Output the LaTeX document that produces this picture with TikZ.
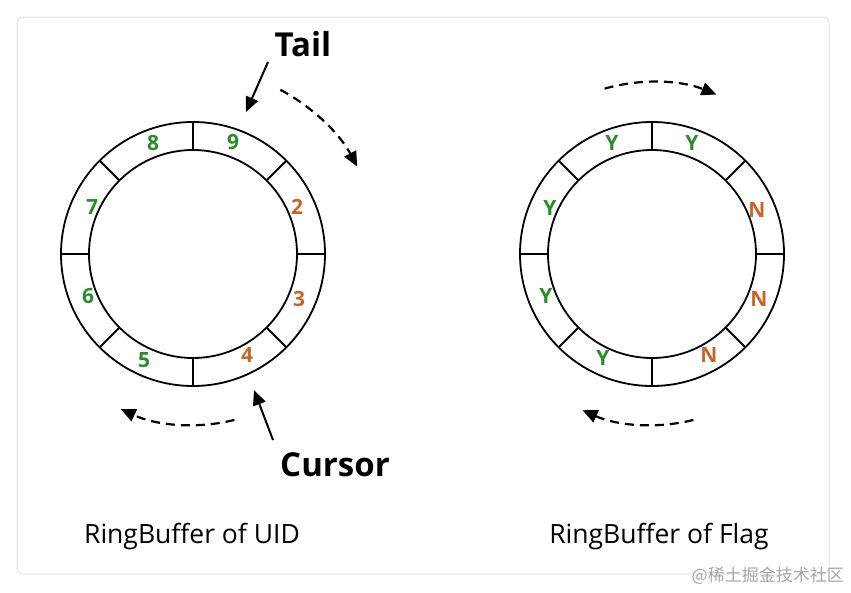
\documentclass[tikz,border=0pt]{standalone}
\usepackage{fontspec}
\setmainfont{Open Sans}
\newfontfamily\cjkfont{Noto Sans CJK SC}
\usetikzlibrary{arrows.meta,calc}
\definecolor{numgreen}{RGB}{40,140,40}
\definecolor{numorange}{RGB}{200,100,40}
\definecolor{framegray}{RGB}{228,228,228}
\tikzset{
  ring/.style={line width=1.8pt, black},
  divider/.style={line width=1.8pt, black},
  cellg/.style={text=numgreen, font=\bfseries\fontsize{21}{21}\selectfont, inner sep=0pt},
  cello/.style={text=numorange, font=\bfseries\fontsize{21}{21}\selectfont, inner sep=0pt},
  bigword/.style={font=\bfseries\fontsize{33}{33}\selectfont, inner sep=0pt},
  caption/.style={font=\fontsize{26.5}{26.5}\selectfont, inner sep=0pt},
  pointer/.style={line width=2pt, -{Triangle[length=15pt,width=13pt]}},
  motion/.style={line width=2.2pt, dash pattern=on 9pt off 6pt, -{Triangle[length=15pt,width=13pt]}},
  mark text/.style={text=black!35, font=\cjkfont\fontsize{17}{17}\selectfont, inner sep=0pt},
}
\begin{document}
\begin{tikzpicture}[x=1pt,y=-1pt]
\useasboundingbox (0,0) rectangle (851,592);
\draw[framegray, line width=1pt, rounded corners=6pt] (17,17) rectangle (829,574);

% left ring
\coordinate (L) at (193,254);
\draw[ring] (L) circle[radius=132];
\draw[ring] (L) circle[radius=104];
\foreach \a in {0,45,...,315}
  \draw[divider] ($(L)+(\a:104)$) -- ($(L)+(\a:132)$);
\node[cellg] (l9) at (233,142) {9};
\node[cellg] (l8) at (153,143) {8};
\node[cello] (l2) at (297,207) {2};
\node[cello] (l3) at (299,299) {3};
\node[cello] (l4) at (247,355) {4};
\node[cellg] (l5) at (144,360) {5};
\node[cellg] (l6) at (88,296) {6};
\node[cellg] (l7) at (92,207) {7};

% right ring
\coordinate (R) at (652,254);
\draw[ring] (R) circle[radius=132];
\draw[ring] (R) circle[radius=104];
\foreach \a in {0,45,...,315}
  \draw[divider] ($(R)+(\a:104)$) -- ($(R)+(\a:132)$);
\node[cellg] (r1) at (612,143) {Y};
\node[cellg] (r2) at (692,143) {Y};
\node[cello] (r3) at (757,210) {N};
\node[cello] (r4) at (759,299) {N};
\node[cello] (r5) at (709,355) {N};
\node[cellg] (r6) at (603,358) {Y};
\node[cellg] (r7) at (546,296) {Y};
\node[cellg] (r8) at (550,208) {Y};

% labels and pointers
\node[bigword] (tail) at (303,44) {Tail};
\node[bigword] (cursor) at (335,465) {Cursor};
\coordinate (tailfrom) at (268,62);
\coordinate (tailto) at (246,112);
\coordinate (curfrom) at (273,440);
\coordinate (curto) at (254,390);
\draw[pointer] (tailfrom) -- (tailto);
\draw[pointer] (curfrom) -- (curto);

% motion arcs
\draw[motion] ($(L)+(-62:186)$) arc[start angle=-62, end angle=-28, radius=186];
\draw[motion] ($(L)+(76:171)$) arc[start angle=76, end angle=115, radius=171];
\draw[motion] ($(R)+(-106:172)$) arc[start angle=-106, end angle=-68, radius=172];
\draw[motion] ($(R)+(76:171)$) arc[start angle=76, end angle=114, radius=171];

% captions
\node[caption] (capl) at (192,537) {RingBuffer of UID};
\node[caption] (capr) at (659,537) {RingBuffer of Flag};
\node[mark text, anchor=east] (wm) at (844,576) {@稀土掘金技术社区};
\end{tikzpicture}
\end{document}
